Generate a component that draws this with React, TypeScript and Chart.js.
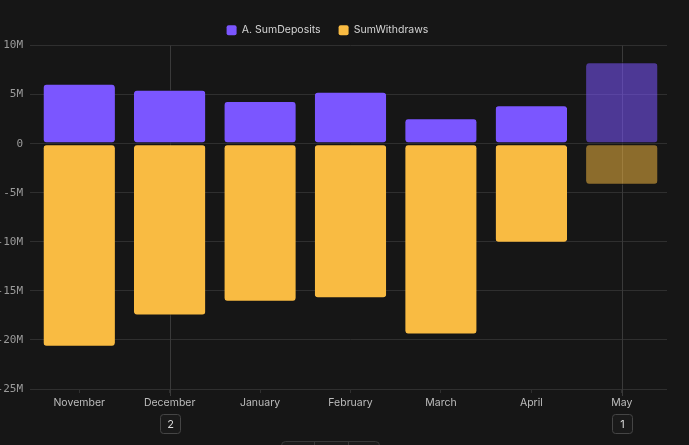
import { useEffect, useRef } from "react";
import { Chart, registerables } from "chart.js";

Chart.register(...registerables);

const months = ["November", "December", "January", "February", "March", "April", "May"];
const sumDeposits = [6100000, 5500000, 4350000, 5300000, 2600000, 3900000, 8300000];
const sumWithdraws = [-20700000, -17500000, -16100000, -15750000, -19450000, -10100000, -4200000];
const markerMonths = ["December", "May"];
const markerCounts = ["2", "1"];
const partialMonth = "May";
const yMin = -25000000;
const yMax = 10000000;
const yStep = 5000000;

const BG = "#161616";
const PURPLE = "#7b56ff";
const PURPLE_DIM = "rgba(123,86,255,0.55)";
const YELLOW = "#f9bb42";
const YELLOW_DIM = "rgba(249,187,66,0.52)";

function roundRect(ctx: CanvasRenderingContext2D, x: number, y: number, w: number, h: number, r: number) {
  ctx.beginPath();
  ctx.moveTo(x + r, y);
  ctx.lineTo(x + w - r, y);
  ctx.arcTo(x + w, y, x + w, y + r, r);
  ctx.lineTo(x + w, y + h - r);
  ctx.arcTo(x + w, y + h, x + w - r, y + h, r);
  ctx.lineTo(x + r, y + h);
  ctx.arcTo(x, y + h, x, y + h - r, r);
  ctx.lineTo(x, y + r);
  ctx.arcTo(x, y, x + r, y, r);
  ctx.closePath();
}

const markerPlugin = {
  id: "markers",
  beforeDatasetsDraw(chart: any) {
    const { ctx, chartArea, scales } = chart;
    ctx.save();
    ctx.strokeStyle = "#3a3a3a";
    ctx.lineWidth = 1;
    markerMonths.forEach((m) => {
      const px = Math.round(scales.x.getPixelForValue(months.indexOf(m))) + 0.5;
      ctx.beginPath();
      ctx.moveTo(px, chartArea.top);
      ctx.lineTo(px, chartArea.bottom + 7);
      ctx.stroke();
    });
    ctx.restore();
  },
  afterDraw(chart: any) {
    const { ctx, chartArea, scales } = chart;
    ctx.save();
    markerMonths.forEach((m, i) => {
      const px = Math.round(scales.x.getPixelForValue(months.indexOf(m)));
      const top = chartArea.bottom + 25;
      roundRect(ctx, px - 10 + 0.5, top + 0.5, 20, 19, 3);
      ctx.fillStyle = "#1a1a1a";
      ctx.fill();
      ctx.strokeStyle = "#454545";
      ctx.lineWidth = 1;
      ctx.stroke();
      ctx.fillStyle = "#d8d8d8";
      ctx.font = "11px Inter";
      ctx.textAlign = "center";
      ctx.textBaseline = "middle";
      ctx.fillText(markerCounts[i], px + 0.5, top + 10.5);
    });
    // pagination pill at bottom
    const pl = 293;
    const pt = 441;
    roundRect(ctx, pl + 0.5, pt + 0.5, 98, 14, 4);
    ctx.fillStyle = "#1b1b1b";
    ctx.fill();
    ctx.strokeStyle = "#383838";
    ctx.stroke();
    ctx.beginPath();
    ctx.moveTo(pl + 33.5, pt);
    ctx.lineTo(pl + 33.5, pt + 14);
    ctx.moveTo(pl + 67.5, pt);
    ctx.lineTo(pl + 67.5, pt + 14);
    ctx.stroke();
    ctx.restore();
  },
};

export default function App() {
  const ref = useRef<HTMLCanvasElement>(null);

  useEffect(() => {
    document.body.style.margin = "0";
    document.body.style.background = BG;
    const canvas = ref.current;
    if (!canvas) return;
    const isPartial = (c: any) => c.dataIndex !== undefined && months[c.dataIndex] === partialMonth;
    const barBorder = { top: 1, bottom: 1, left: 0, right: 0 };
    const chart = new Chart(canvas, {
      type: "bar",
      data: {
        labels: months,
        datasets: [
          {
            label: "A. SumDeposits",
            data: sumDeposits,
            backgroundColor: (c: any) => (isPartial(c) ? PURPLE_DIM : PURPLE),
            borderColor: BG,
            borderWidth: barBorder,
            borderRadius: 4,
            borderSkipped: false,
            barPercentage: 0.79,
            categoryPercentage: 1,
          },
          {
            label: "SumWithdraws",
            data: sumWithdraws,
            backgroundColor: (c: any) => (isPartial(c) ? YELLOW_DIM : YELLOW),
            borderColor: BG,
            borderWidth: barBorder,
            borderRadius: 4,
            borderSkipped: false,
            barPercentage: 0.79,
            categoryPercentage: 1,
          },
        ],
      },
      options: {
        animation: false,
        responsive: true,
        maintainAspectRatio: false,
        layout: { padding: { top: 7, right: 22, bottom: 0, left: 0 } },
        plugins: {
          legend: {
            display: true,
            position: "top",
            maxHeight: 41,
            labels: {
              boxWidth: 10,
              boxHeight: 10,
              useBorderRadius: true,
              borderRadius: 2,
              padding: 18,
              color: "#d4d4d4",
              font: { family: "Inter", size: 10.5 },
              generateLabels: (ch: any) =>
                ch.data.datasets.map((ds: any, i: number) => ({
                  text: ds.label,
                  fillStyle: i === 0 ? PURPLE : YELLOW,
                  strokeStyle: i === 0 ? PURPLE : YELLOW,
                  lineWidth: 0,
                  fontColor: "#d4d4d4",
                  borderRadius: 2,
                  hidden: false,
                  datasetIndex: i,
                })),
            },
          },
          tooltip: { enabled: false },
        },
        scales: {
          x: {
            stacked: true,
            border: { display: false },
            grid: { offset: false, drawOnChartArea: false, drawTicks: true, tickLength: 4, color: "#303030" },
            ticks: { color: "#bdbdbd", font: { family: "Inter", size: 10.5 }, padding: 4, maxRotation: 0 },
            afterFit: (s: any) => {
              s.height = 56;
            },
          },
          y: {
            stacked: true,
            min: yMin,
            max: yMax,
            border: { display: false },
            grid: { color: "#2f2f2f", tickLength: 4 },
            ticks: {
              stepSize: yStep,
              color: "#9a9a9a",
              font: { family: "DejaVu Sans Mono", size: 11 },
              padding: 7,
              callback: (v: any) => (Number(v) === 0 ? "0" : `${Number(v) / 1000000}M`),
            },
            afterFit: (s: any) => {
              s.width = 46;
            },
          },
        },
      },
      plugins: [markerPlugin],
    });
    return () => chart.destroy();
  }, []);

  return (
    <div style={{ position: "fixed", left: -12, top: 0, width: 701, height: 445, background: BG }}>
      <canvas ref={ref} />
    </div>
  );
}
